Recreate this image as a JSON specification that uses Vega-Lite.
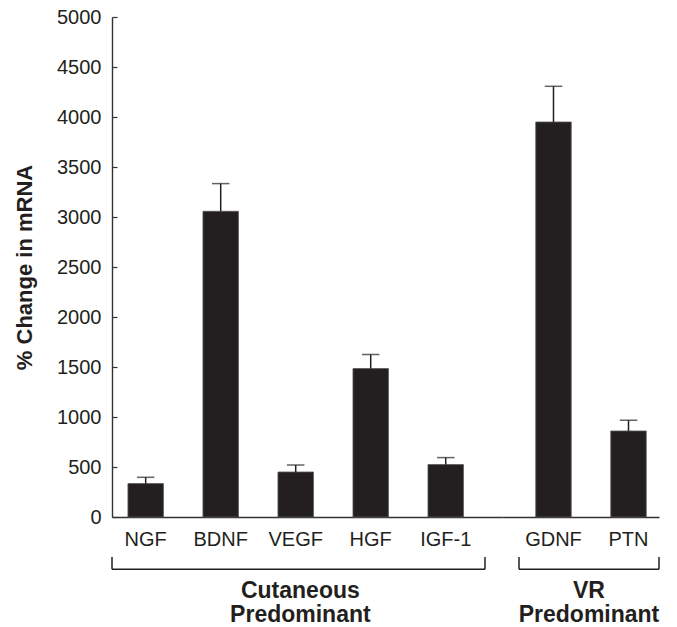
{
  "$schema": "https://vega.github.io/schema/vega-lite/v6.json",
  "autosize": {"type": "pad"},
  "padding": {"left": 13, "top": 7, "right": 10, "bottom": 0},
  "background": "white",
  "config": {
    "font": "Liberation Sans",
    "view": {"stroke": null},
    "axis": {"grid": false, "domainColor": "#333333", "domainWidth": 1.4, "labelColor": "#231f20", "titleColor": "#231f20", "labelFontSize": 20, "labelFont": "Liberation Sans"}
  },
  "datasets": {
    "factors": [
      {"factor": "NGF", "group": "Cutaneous", "value": 334, "err": 397},
      {"factor": "BDNF", "group": "Cutaneous", "value": 3057, "err": 3334},
      {"factor": "VEGF", "group": "Cutaneous", "value": 450, "err": 520},
      {"factor": "HGF", "group": "Cutaneous", "value": 1484, "err": 1624},
      {"factor": "IGF-1", "group": "Cutaneous", "value": 524, "err": 594},
      {"factor": "GDNF", "group": "VR", "value": 3950, "err": 4307},
      {"factor": "PTN", "group": "VR", "value": 860, "err": 967}
    ],
    "groups": [
      {"group": "Cutaneous", "label": "Cutaneous Predominant"},
      {"group": "VR", "label": "VR Predominant"}
    ]
  },
  "data": {"name": "factors"},
  "spacing": 0,
  "bounds": "flush",
  "resolve": {"scale": {"x": "independent"}},
  "hconcat": [
    {
      "width": 390,
      "height": 500,
      "resolve": {"scale": {"x": "independent"}},
      "layer": [
        {
          "transform": [{"filter": "datum.group === 'Cutaneous'"}],
          "encoding": {
            "x": {
              "field": "factor", "type": "nominal", "sort": null,
              "scale": {"paddingInner": 0.527, "paddingOuter": 0.3633, "align": 0.2927},
              "axis": {"title": null, "ticks": false, "labelAngle": 0, "labelPadding": 28, "labelBaseline": "alphabetic"}
            }
          },
          "layer": [
            {
              "mark": {"type": "bar", "color": "#231f20", "stroke": "#555555", "strokeWidth": 0.8},
              "encoding": {
                "y": {
                  "field": "value", "type": "quantitative",
                  "scale": {"domain": [0, 5000], "nice": false},
                  "axis": {"title": "% Change in mRNA", "titleFontSize": 22, "titleFontWeight": "bold", "titlePadding": 20, "format": "d", "values": [0, 500, 1000, 1500, 2000, 2500, 3000, 3500, 4000, 4500, 5000], "tickSize": -5, "tickColor": "#333333", "tickWidth": 1.2, "labelPadding": 16, "labelFlush": false}
                }
              }
            },
            {
              "mark": {"type": "rule", "color": "#231f20", "strokeWidth": 1.5},
              "encoding": {
                "y": {"field": "value", "type": "quantitative", "title": "% Change in mRNA"},
                "y2": {"field": "err"}
              }
            },
            {
              "mark": {"type": "tick", "color": "#231f20", "thickness": 1.5, "size": 17.5},
              "encoding": {"y": {"field": "err", "type": "quantitative", "title": "% Change in mRNA"}}
            }
          ]
        },
        {
          "data": {"name": "groups"},
          "transform": [{"filter": "datum.group === 'Cutaneous'"}],
          "encoding": {
            "x": {"datum": 0, "type": "quantitative", "scale": {"domain": [0, 1], "nice": false, "zero": false}, "axis": null}
          },
          "layer": [
            {
              "mark": {"type": "rule", "color": "#231f20", "strokeWidth": 1.5},
              "encoding": {"x2": {"datum": 0.9564}, "y": {"datum": -523, "type": "quantitative"}}
            },
            {
              "mark": {"type": "rule", "color": "#231f20", "strokeWidth": 1.5},
              "encoding": {"y": {"datum": -400, "type": "quantitative"}, "y2": {"datum": -523}}
            },
            {
              "mark": {"type": "rule", "color": "#231f20", "strokeWidth": 1.5},
              "encoding": {"x": {"datum": 0.9564, "type": "quantitative"}, "y": {"datum": -400, "type": "quantitative"}, "y2": {"datum": -523}}
            },
            {
              "mark": {"type": "text", "color": "#231f20", "fontSize": 23, "fontWeight": "bold", "baseline": "alphabetic", "lineBreak": " ", "lineHeight": 24},
              "encoding": {"x": {"datum": 0.483, "type": "quantitative"}, "y": {"datum": -813, "type": "quantitative"}, "text": {"field": "label"}}
            }
          ]
        }
      ]
    },
    {
      "width": 157,
      "height": 500,
      "resolve": {"scale": {"x": "independent"}},
      "layer": [
        {
          "transform": [{"filter": "datum.group === 'VR'"}],
          "encoding": {
            "x": {
              "field": "factor", "type": "nominal", "sort": null,
              "scale": {"paddingInner": 0.527, "paddingOuter": 0.31, "align": 0.7258},
              "axis": {"title": null, "ticks": false, "labelAngle": 0, "labelPadding": 28, "labelBaseline": "alphabetic"}
            }
          },
          "layer": [
            {
              "mark": {"type": "bar", "color": "#231f20", "stroke": "#555555", "strokeWidth": 0.8},
              "encoding": {"y": {"field": "value", "type": "quantitative", "scale": {"domain": [0, 5000], "nice": false}, "axis": null}}
            },
            {
              "mark": {"type": "rule", "color": "#231f20", "strokeWidth": 1.5},
              "encoding": {"y": {"field": "value", "type": "quantitative", "axis": null}, "y2": {"field": "err"}}
            },
            {
              "mark": {"type": "tick", "color": "#231f20", "thickness": 1.5, "size": 17.5},
              "encoding": {"y": {"field": "err", "type": "quantitative", "axis": null}}
            }
          ]
        },
        {
          "data": {"name": "groups"},
          "transform": [{"filter": "datum.group === 'VR'"}],
          "encoding": {
            "x": {"datum": 0.1083, "type": "quantitative", "scale": {"domain": [0, 1], "nice": false, "zero": false}, "axis": null}
          },
          "layer": [
            {
              "mark": {"type": "rule", "color": "#231f20", "strokeWidth": 1.5},
              "encoding": {"x2": {"datum": 1}, "y": {"datum": -523, "type": "quantitative", "axis": null}}
            },
            {
              "mark": {"type": "rule", "color": "#231f20", "strokeWidth": 1.5},
              "encoding": {"y": {"datum": -400, "type": "quantitative", "axis": null}, "y2": {"datum": -523}}
            },
            {
              "mark": {"type": "rule", "color": "#231f20", "strokeWidth": 1.5},
              "encoding": {"x": {"datum": 1, "type": "quantitative"}, "y": {"datum": -400, "type": "quantitative", "axis": null}, "y2": {"datum": -523}}
            },
            {
              "mark": {"type": "text", "color": "#231f20", "fontSize": 23, "fontWeight": "bold", "baseline": "alphabetic", "lineBreak": " ", "lineHeight": 24},
              "encoding": {"x": {"datum": 0.554, "type": "quantitative"}, "y": {"datum": -813, "type": "quantitative", "axis": null}, "text": {"field": "label"}}
            }
          ]
        }
      ]
    }
  ]
}
